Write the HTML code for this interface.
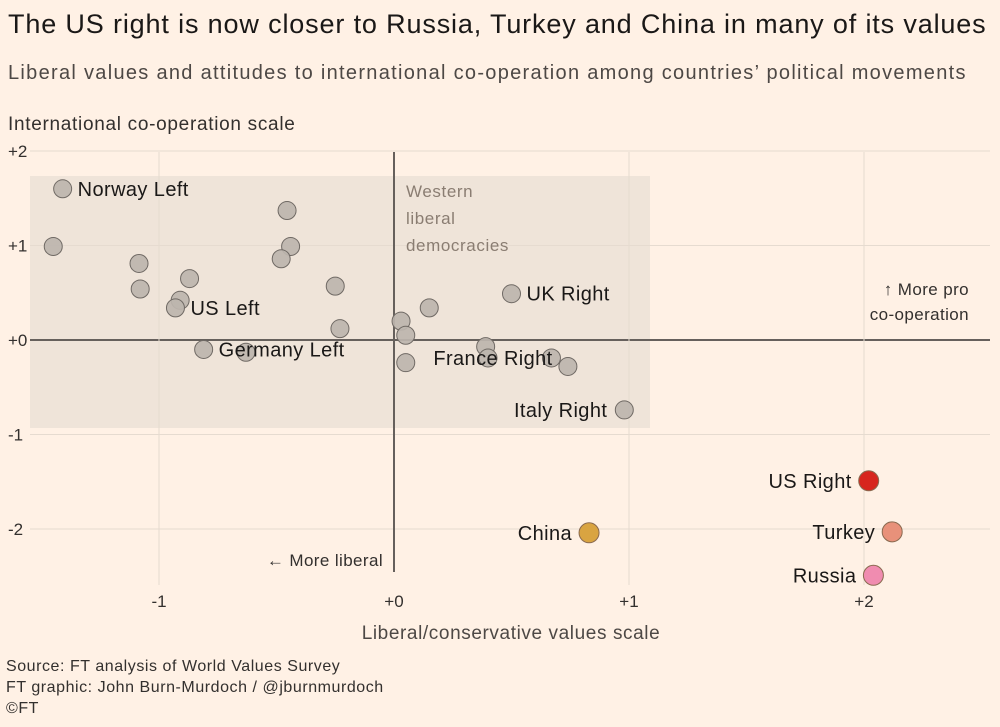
<!DOCTYPE html>
<html><head><meta charset="utf-8"><style>
body{margin:0;background:#fff1e5;font-family:"Liberation Sans",sans-serif;color:#33302e}
#wrap{position:relative;width:1000px;height:727px;overflow:hidden}
.t{position:absolute;white-space:nowrap}
</style></head><body>
<div id="wrap">
<div class="t" style="left:8px;top:9px;font-size:27px;letter-spacing:0.85px;color:#1a1817">The US right is now closer to Russia, Turkey and China in many of its values</div>
<div class="t" style="left:8px;top:62px;font-size:20px;letter-spacing:1.3px;color:#4d4845">Liberal values and attitudes to international co-operation among countries’ political movements</div>
<div class="t" style="left:8px;top:114px;font-size:19px;letter-spacing:0.7px">International co-operation scale</div>
<svg id="chart" width="1000" height="727" style="position:absolute;left:0;top:0"></svg>
<div class="t" style="left:6px;top:656px;font-size:16px;letter-spacing:0.55px;line-height:21px">Source: FT analysis of World Values Survey<br>FT graphic: John Burn-Murdoch / @jburnmurdoch<br>©FT</div>
</div>
<script>
const names=["Norway Left","","","","","","US Left","","","","","","Germany Left","","","","","","UK Right","","France Right","","","Italy Right","China","US Right","Turkey","Russia"];
const xVals=[-1.41,-1.45,-1.085,-1.08,-0.87,-0.91,-0.93,-0.455,-0.44,-0.48,-0.25,-0.23,-0.81,-0.63,0.03,0.05,0.05,0.15,0.50,0.39,0.40,0.67,0.74,0.98,0.83,2.02,2.12,2.04];
const yVals=[1.60,0.99,0.81,0.54,0.65,0.42,0.34,1.37,0.99,0.86,0.57,0.12,-0.10,-0.13,0.20,0.05,-0.24,0.34,0.49,-0.07,-0.19,-0.19,-0.28,-0.74,-2.04,-1.49,-2.03,-2.49];
const colors={"China":"#d9a441","US Right":"#d7261e","Turkey":"#e8917a","Russia":"#f08cb0"};
const labelSide={"Norway Left":"r","US Left":"r","Germany Left":"r","UK Right":"r","France Right":"c","Italy Right":"l","China":"l","US Right":"l","Turkey":"l","Russia":"l"};
const xTicks=[-1,0,1,2], xTickLabels=["-1","+0","+1","+2"];
const yTicks=[2,1,0,-1,-2], yTickLabels=["+2","+1","+0","-1","-2"];
const X=v=>394+235*v, Y=v=>340-94.5*v;
const svg=document.getElementById('chart'), NS="http://www.w3.org/2000/svg";
function mk(t,a,txt){const e=document.createElementNS(NS,t);for(const k in a)e.setAttribute(k,a[k]);if(txt!==undefined)e.textContent=txt;svg.appendChild(e);return e;}
let e;
e=mk('rect',{x:30,y:176,width:620,height:252,fill:'#efe4d9'});


yTicks.forEach((v,i)=>{
 e=mk('line',{x1:30,x2:990,y1:Y(v),y2:Y(v),stroke:v===0?'#66605c':'#e6dbd0','stroke-width':v===0?2:1});
 
 
 e=mk('text',{x:8,y:Y(v)+6,'font-size':17,fill:'#33302e'},yTickLabels[i]);
 
 
});
xTicks.forEach((v,i)=>{
 e=mk('line',{x1:X(v),x2:X(v),y1:152,y2:v===0?572:585,stroke:v===0?'#66605c':'#e6dbd0','stroke-width':v===0?2:1});
 
 
 e=mk('text',{x:X(v),y:607,'font-size':17,'text-anchor':'middle',fill:'#33302e'},xTickLabels[i]);
 
 
});
[['Western',197],['liberal',224],['democracies',251]].forEach(([s,y])=>{
 e=mk('text',{x:406,y:y,'font-size':17,'letter-spacing':0.6,fill:'#8a7d72'},s);
 
 
});
e=mk('text',{x:969,y:295,'font-size':17,'letter-spacing':0.4,'text-anchor':'end',fill:'#33302e'},'↑ More pro');


e=mk('text',{x:969,y:320,'font-size':17,'letter-spacing':0.4,'text-anchor':'end',fill:'#33302e'},'co-operation');


e=mk('text',{x:383,y:566,'font-size':17,'letter-spacing':0.4,'text-anchor':'end',fill:'#33302e'},'← More liberal');


e=mk('text',{x:511,y:639,'font-size':19,'letter-spacing':0.6,'text-anchor':'middle',fill:'#4d4845'},'Liberal/conservative values scale');


xVals.forEach((xv,i)=>{
 const c=colors[names[i]];
 e=mk('circle',{cx:X(xv),cy:Y(yVals[i]),r:c?10:9,fill:c||'#bdb5ae',stroke:c?'#8a6a50':'#6f6964','stroke-width':1,'fill-opacity':c?1:0.92});
 
 
});
xVals.forEach((xv,i)=>{
 const n=names[i]; if(!n)return;
 const s=labelSide[n]; let x=X(xv),a='start';
 if(s==='r')x+=15; else if(s==='l'){x-=17;a='end';} else {x+=5;a='middle';}
 e=mk('text',{x:x,y:Y(yVals[i])+7,'font-size':20,'letter-spacing':0.4,'text-anchor':a,fill:'#1a1817'},n);
 
 
});
</script>
</body></html>
